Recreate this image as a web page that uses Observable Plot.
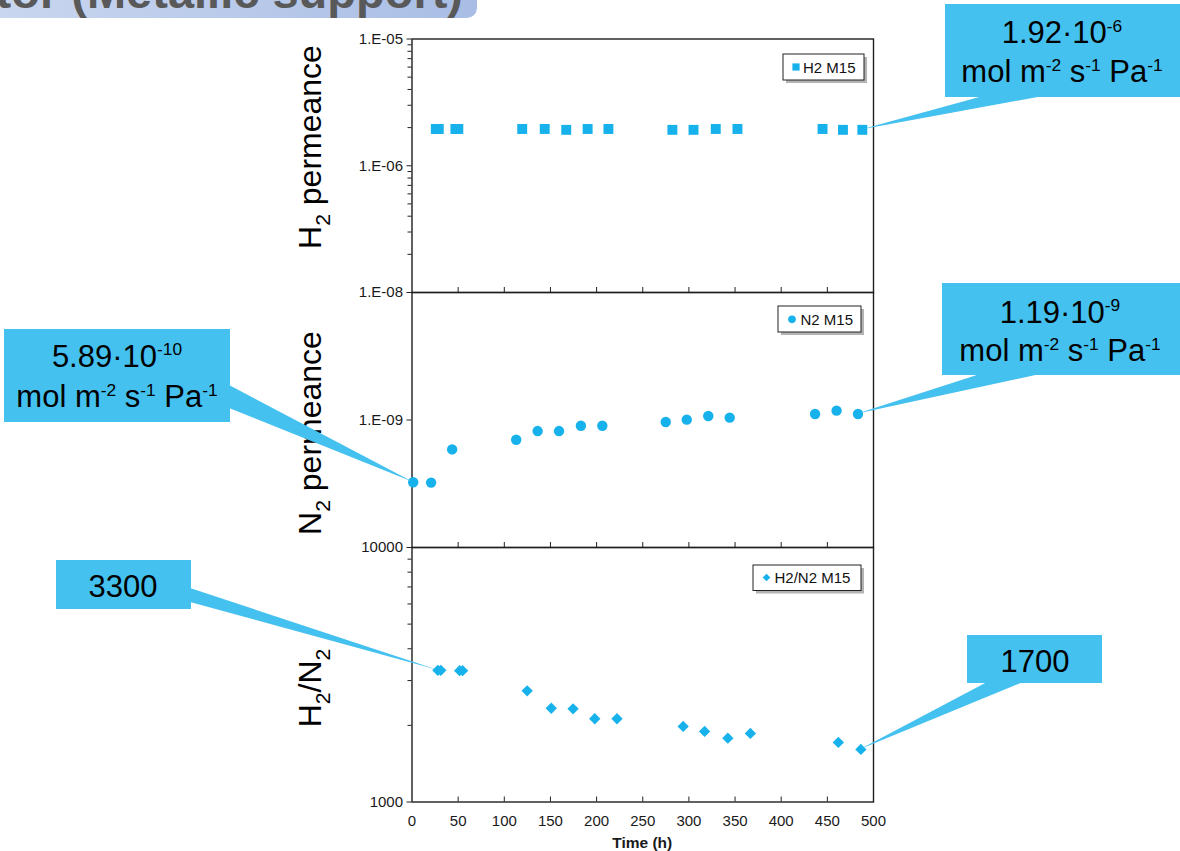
<!DOCTYPE html>
<html>
<head>
<meta charset="utf-8">
<script src="https://cdn.jsdelivr.net/npm/d3@7"></script>
<script src="https://cdn.jsdelivr.net/npm/@observablehq/plot@0.6"></script>
<style>
  html, body { margin: 0; padding: 0; background: #fff; overflow: hidden; }
  #wrap { position: relative; width: 1180px; height: 851px; overflow: hidden; background: #fff;
          font-family: "Liberation Sans", Arial, sans-serif; }
  #wrap > svg { position: absolute; left: 0; top: 0; }
</style>
</head>
<body>
<div id="wrap"></div>
<script>
// ---------------- data ----------------
const h2Time = [25.8, 29.0, 47.0, 50.2, 119.4, 143.8, 167.1, 190.3, 212.8, 282.1, 305.0, 329.1, 352.6, 444.8, 466.9, 487.9];
const h2Perm = [1.95e-6, 1.95e-6, 1.95e-6, 1.95e-6, 1.95e-6, 1.95e-6, 1.92e-6, 1.95e-6, 1.95e-6, 1.92e-6, 1.92e-6, 1.95e-6, 1.95e-6, 1.95e-6, 1.92e-6, 1.92e-6];

const n2Time = [1.3, 20.7, 43.5, 112.9, 136.1, 159.3, 183.0, 206.2, 274.9, 297.7, 321.0, 344.2, 436.7, 460.0, 483.2];
const n2Perm = [3.25e-10, 3.23e-10, 5.88e-10, 7.0e-10, 8.19e-10, 8.19e-10, 9.02e-10, 9.02e-10, 9.64e-10, 1.006e-9, 1.075e-9, 1.043e-9, 1.115e-9, 1.184e-9, 1.115e-9];

const ratioTime = [28.0, 31.2, 51.6, 54.8, 124.8, 150.9, 174.5, 198.0, 222.1, 293.8, 317.0, 342.2, 366.6, 461.9, 486.3];
const ratioVal  = [3290, 3290, 3280, 3280, 2735, 2336, 2324, 2124, 2124, 1981, 1894, 1782, 1860, 1714, 1609];

const seriesNames = ["H2 M15", "N2 M15", "H2/N2 M15"];

const xTicks = [0, 50, 100, 150, 200, 250, 300, 350, 400, 450, 500];
const xInnerTicks = [50, 100, 150, 200, 250, 300, 350, 400, 450];
const xTitle = "Time (h)";

const h2Ticks = [1e-5, 1e-6];
const h2TickLabels = ["1.E-05", "1.E-06"];
const h2Minor = [2e-6, 3e-6, 4e-6, 5e-6, 6e-6, 7e-6, 8e-6, 9e-6, 1e-7, 2e-7, 3e-7, 4e-7, 5e-7, 6e-7, 7e-7, 8e-7, 9e-7];

const n2Ticks = [1e-8, 1e-9];
const n2TickLabels = ["1.E-08", "1.E-09"];
const n2Minor = [1e-10];

const ratioTicks = [10000, 1000];
const ratioTickLabels = ["10000", "1000"];
const ratioMinor = [2000, 3000, 4000, 5000, 6000, 7000, 8000, 9000];

const yTitles = ["H_{2} permeance", "N_{2} permeance", "H_{2}/N_{2}"];

const calloutTexts = [
  ["1.92·10^{-6}", "mol m^{-2} s^{-1} Pa^{-1}"],
  ["1.19·10^{-9}", "mol m^{-2} s^{-1} Pa^{-1}"],
  ["5.89·10^{-10}", "mol m^{-2} s^{-1} Pa^{-1}"],
  ["3300"],
  ["1700"]
];

const titleText = "Membrane Reactor (Metallic support)";

// ---------------- layout / style ----------------
const W = 1180, H = 851;
const X0 = 411.5, X1 = 873;
const blue = "#17b2ec";
const calloutFill = "#45c1ef";
const font = "'Liberation Sans', Arial, sans-serif";

function toRows(ts, vs) { return ts.map((t, i) => ({t, v: vs[i]})); }

function panel({top, bottom, domain, ticks, labels, minor, rows, symbol, r, xLabels}) {
  const labelOf = new Map(ticks.map((t, i) => [t, labels[i]]));
  const marks = [
    Plot.axisY({ticks, tickFormat: d => labelOf.get(d), tickSize: 5, tickPadding: 4, label: null, stroke: "#222"}),
    Plot.axisY({ticks: minor, tickFormat: () => "", tickSize: 4, label: null, stroke: "#222"}),
    Plot.axisX({ticks: xInnerTicks, tickFormat: () => "", tickSize: 5, dy: -5, label: null, stroke: "#222"})
  ];
  if (xLabels) marks.push(Plot.axisX({ticks: xTicks, tickSize: 0, tickPadding: 13, label: null, fontSize: 15}));
  marks.push(Plot.frame({stroke: "#1e1e1e", strokeWidth: 1.4}));
  marks.push(Plot.dot(rows, {x: "t", y: "v", symbol, r, fill: blue, stroke: "none"}));
  return Plot.plot({
    width: W, height: H,
    marginLeft: X0, marginRight: W - X1, marginTop: top, marginBottom: H - bottom,
    x: {domain: [0, 500]},
    y: {type: "log", domain},
    style: {background: "transparent", fontFamily: font, fontSize: "15px", color: "#1a1a1a", overflow: "visible"},
    marks
  });
}

const wrap = document.getElementById("wrap");

const p1 = panel({top: 38.5, bottom: 292, domain: [1e-7, 1e-5], ticks: h2Ticks, labels: h2TickLabels, minor: h2Minor,
  rows: toRows(h2Time, h2Perm), symbol: "square", r: 5.6, xLabels: false});
const p2 = panel({top: 292, bottom: 547, domain: [1e-10, 1e-8], ticks: n2Ticks, labels: n2TickLabels, minor: n2Minor,
  rows: toRows(n2Time, n2Perm), symbol: "circle", r: 5.2, xLabels: false});
const p3 = panel({top: 547, bottom: 801.5, domain: [1000, 10000], ticks: ratioTicks, labels: ratioTickLabels, minor: ratioMinor,
  rows: toRows(ratioTime, ratioVal), symbol: "diamond2", r: 5.1, xLabels: true});
wrap.append(p1, p2, p3);

// ---------------- overlay: titles, legends, callouts ----------------
const svg = d3.create("svg").attr("width", W).attr("height", H)
  .attr("font-family", font).style("overflow", "hidden");

// rich text helper: ^{..} superscript, _{..} subscript
function rich(textSel, str, fs, supScale, supShift, subScale, subShift) {
  const parts = str.split(/(\^\{[^}]*\}|_\{[^}]*\})/).filter(s => s.length);
  let cur = 0;
  for (const p of parts) {
    let target = 0, size = fs, txt = p;
    if (p.startsWith("^{")) { target = -supShift * fs; size = fs * supScale; txt = p.slice(2, -1); }
    else if (p.startsWith("_{")) { target = subShift * fs; size = fs * subScale; txt = p.slice(2, -1); }
    textSel.append("tspan").attr("dy", target - cur).attr("font-size", size).text(txt);
    cur = target;
  }
}

// title box (cut off at the top of the page, as in the source slide)
const defs = svg.append("defs");
const grad = defs.append("linearGradient").attr("id", "tg").attr("x1", 0).attr("x2", 1).attr("y1", 0).attr("y2", 0);
grad.append("stop").attr("offset", 0).attr("stop-color", "#cad7ef");
grad.append("stop").attr("offset", 1).attr("stop-color", "#a9bde5");
svg.append("rect").attr("x", -20).attr("y", -30).attr("width", 497).attr("height", 48).attr("rx", 10).attr("fill", "url(#tg)");
svg.append("text").attr("x", 463).attr("y", 8).attr("text-anchor", "end")
  .attr("font-size", 47).attr("font-weight", "bold").attr("fill", "#595959").text(titleText);

// y-axis titles (rotated)
const yTitleCenters = [147, 433, 688];
yTitles.forEach((t, i) => {
  const tx = svg.append("text").attr("transform", `translate(321,${yTitleCenters[i]}) rotate(-90)`)
    .attr("text-anchor", "middle").attr("font-size", 32).attr("fill", "#000");
  rich(tx, t, 32, 0.56, 0.37, 0.66, 0.28);
});

// x title
svg.append("text").attr("x", (X0 + X1) / 2).attr("y", 848).attr("text-anchor", "middle")
  .attr("font-size", 15.5).attr("font-weight", "bold").attr("fill", "#1a1a1a").text(xTitle);

// legends
const legends = [
  {box: [783, 54, 81, 26], sym: "square", mx: 796, my: 67, tx: 803, ty: 72.5},
  {box: [778, 306, 83, 26], sym: "circle", mx: 792, my: 319.3, tx: 800.5, ty: 324.5},
  {box: [753, 565, 108, 25.5], sym: "diamond", mx: 766.5, my: 577.5, tx: 774.5, ty: 583}
];
legends.forEach((l, i) => {
  const [x, y, w, h] = l.box;
  svg.append("rect").attr("x", x + 3).attr("y", y + 3).attr("width", w).attr("height", h).attr("fill", "#9a9a9a").attr("opacity", 0.75);
  svg.append("rect").attr("x", x).attr("y", y).attr("width", w).attr("height", h).attr("fill", "#fff").attr("stroke", "#222").attr("stroke-width", 1);
  const s = l.sym === "square" ? d3.symbolSquare : l.sym === "circle" ? d3.symbolCircle : d3.symbolDiamond2;
  const size = l.sym === "square" ? 52 : l.sym === "circle" ? 46 : 38;
  svg.append("path").attr("transform", `translate(${l.mx},${l.my})`).attr("d", d3.symbol(s, size)()).attr("fill", blue);
  svg.append("text").attr("x", l.tx).attr("y", l.ty).attr("font-size", 15).attr("fill", "#111").text(seriesNames[i]);
});

// callouts: boxes with wedge pointers to data points
function pt(plot, t, v) { return [plot.scale("x").apply(t), plot.scale("y").apply(v)]; }
const last = a => a[a.length - 1];
const callouts = [
  {box: [945, 4, 245, 93], base: [[983, 96], [1043, 96]], tip: pt(p1, last(h2Time), last(h2Perm)), cx: 1062, lines: [43, 82]},
  {box: [942, 283, 248, 92], base: [[980, 374], [1040, 374]], tip: pt(p2, last(n2Time), last(n2Perm)), cx: 1060, lines: [322.5, 361]},
  {box: [4, 329, 226, 93], base: [[229, 385], [229, 408]], tip: pt(p2, n2Time[0], n2Perm[0]), cx: 117, lines: [366.5, 407]},
  {box: [56, 560, 135, 49], base: [[190, 588], [190, 602]], tip: pt(p3, ratioTime[0], ratioVal[0]), cx: 123, lines: [596.5]},
  {box: [967, 635, 135, 48], base: [[987, 682], [1023, 682]], tip: pt(p3, last(ratioTime), last(ratioVal)), cx: 1035, lines: [671.5]}
];
callouts.forEach((c, i) => {
  const [x, y, w, h] = c.box;
  svg.append("path").attr("d", d3.line()([c.base[0], c.base[1], c.tip]) + "Z").attr("fill", calloutFill);
  svg.append("rect").attr("x", x).attr("y", y).attr("width", w).attr("height", h).attr("fill", calloutFill);
  calloutTexts[i].forEach((line, j) => {
    const tx = svg.append("text").attr("x", c.cx).attr("y", c.lines[j]).attr("text-anchor", "middle")
      .attr("font-size", 31).attr("fill", "#000");
    rich(tx, line, 31, 0.56, 0.37, 0.6, 0.25);
  });
});

wrap.append(svg.node());
</script>
</body>
</html>
